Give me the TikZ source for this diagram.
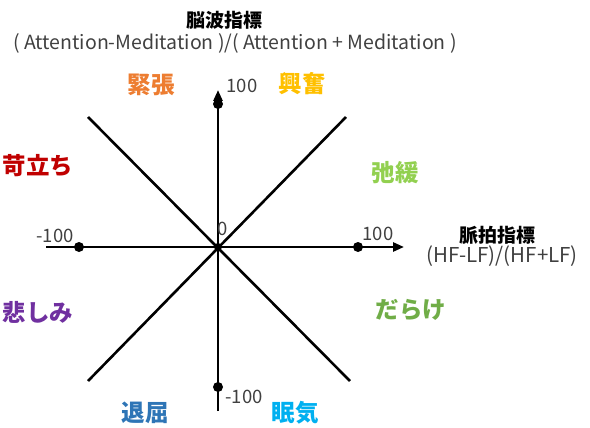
\documentclass[tikz,border=0pt]{standalone}
\usepackage{fontspec}
\setmainfont{Noto Sans CJK JP}
\usetikzlibrary{arrows.meta}
\definecolor{txtgray}{HTML}{404040}
\definecolor{cOrange}{HTML}{ED7D31}
\definecolor{cGold}{HTML}{FFC000}
\definecolor{cRed}{HTML}{C00000}
\definecolor{cLGreen}{HTML}{92D050}
\definecolor{cGreen}{HTML}{70AD47}
\definecolor{cPurple}{HTML}{7030A0}
\definecolor{cBlue}{HTML}{2E75B6}
\definecolor{cSky}{HTML}{00B0F0}
\tikzset{
  axisline/.style={line width=2.6pt, black},
  dot/.style={circle, fill=black, inner sep=0pt, minimum size=10pt},
  emo/.style={font=\fontsize{23.5}{26}\selectfont\bfseries, inner sep=0pt},
  num/.style={font=\fontsize{18.5}{20}\selectfont, text=txtgray, inner sep=0pt},
  ttl/.style={font=\fontsize{19}{21}\selectfont\bfseries, inner sep=0pt},
  frm/.style={font=\fontsize{19.5}{21}\selectfont, text=txtgray, inner sep=0pt},
}
\begin{document}
\begin{tikzpicture}[x=1pt,y=-1pt]
\useasboundingbox (0,0) rectangle (590,428);
% coordinates
\coordinate (O) at (218,247);
\coordinate (L) at (46,247);
\coordinate (R) at (404,247);
\coordinate (T) at (218,90);
\coordinate (B) at (218,411);
\coordinate (TL) at (88,117);
\coordinate (TR) at (346,117);
\coordinate (BL) at (88,381);
\coordinate (BR) at (350,381);
% diagonals
\draw[axisline] (TL) -- (BR);
\draw[axisline] (TR) -- (BL);
% axes
\draw[axisline, -{Triangle[length=11pt,width=9pt]}] (L) -- (R);
\draw[axisline, -{Triangle[length=11pt,width=9pt]}] (B) -- (T);
% dots
\node[dot] (dL) at (79,247) {};
\node[dot] (dR) at (358,247) {};
\node[dot] (dT) at (218,104) {};
\node[dot] (dB) at (218,387) {};
\node[dot, minimum size=8pt] (dO) at (O) {};
% numbers
\node[num] (nL) at (55,236) {-100};
\node[num] (nR) at (378,234) {100};
\node[num] (nT) at (242,86) {100};
\node[num] (nB) at (244,397) {-100};
\node[num] (nO) at (223,229) {0};
% titles
\node[ttl] (yt) at (224,20) {脳波指標};
\node[frm] (yf) at (235,43) {( Attention-Meditation )/( Attention + Meditation )};
\node[ttl] (xt) at (497,235) {脈拍指標};
\node[frm, font=\fontsize{20.5}{22}\selectfont] (xf) at (502,256) {(HF-LF)/(HF+LF)};
% emotions
\node[emo, text=cOrange] (e1) at (151,85) {緊張};
\node[emo, text=cGold] (e2) at (302,84) {興奮};
\node[emo, text=cRed] (e3) at (38,166) {苛立ち};
\node[emo, text=cLGreen] (e4) at (395,173) {弛緩};
\node[emo, text=cPurple] (e5) at (38,312) {悲しみ};
\node[emo, text=cGreen] (e6) at (411,310) {だらけ};
\node[emo, text=cBlue] (e7) at (145,413) {退屈};
\node[emo, text=cSky] (e8) at (295,413) {眠気};
\end{tikzpicture}
\end{document}
